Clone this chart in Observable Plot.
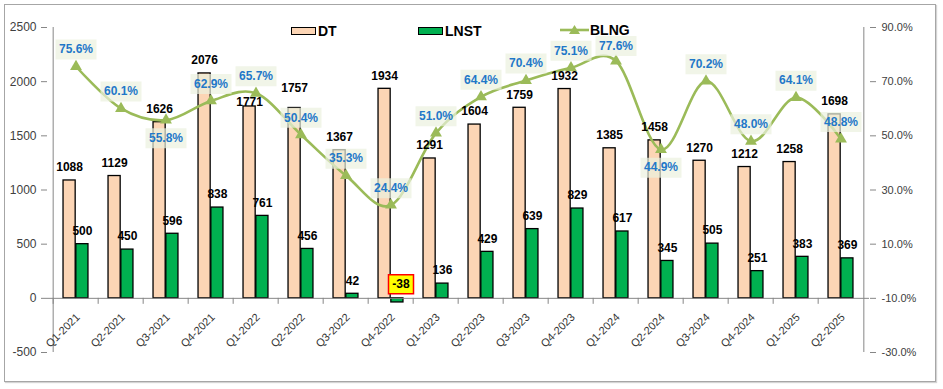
<!DOCTYPE html>
<html><head><meta charset="utf-8">
<script src="https://cdn.jsdelivr.net/npm/d3@7"></script>
<script src="https://cdn.jsdelivr.net/npm/@observablehq/plot@0.6"></script>
<style>
body{margin:0;background:#fff;font-family:"Liberation Sans",Arial,sans-serif;}
#wrap{position:relative;width:943px;height:389px;overflow:hidden;background:#fff;}
#chart{position:absolute;left:0;top:0;}
#border{position:absolute;left:4px;top:4px;width:930px;height:376px;border:1.5px solid #a6a6a6;box-shadow:1px 1px 1px #d4d4d4;pointer-events:none;}
.leg{position:absolute;font-weight:bold;font-size:14px;color:#000;line-height:14px;}
.sw{position:absolute;box-sizing:border-box;border:1px solid #000;}
</style></head><body>
<div id="wrap"><div id="chart"></div><div id="legend"></div><div id="border"></div></div>
<script>
const quarters = ["Q1-2021","Q2-2021","Q3-2021","Q4-2021","Q1-2022","Q2-2022","Q3-2022","Q4-2022","Q1-2023","Q2-2023","Q3-2023","Q4-2023","Q1-2024","Q2-2024","Q3-2024","Q4-2024","Q1-2025","Q2-2025"];
const dt   = [1088,1129,1626,2076,1771,1757,1367,1934,1291,1604,1759,1932,1385,1458,1270,1212,1258,1698];
const lnst = [500,450,596,838,761,456,42,-38,136,429,639,829,617,345,505,251,383,369];
const blng = [75.6,60.1,55.8,62.9,65.7,50.4,35.3,24.4,51.0,64.4,70.4,75.1,77.6,44.9,70.2,48.0,64.1,48.8];
const leftTicks  = [-500,0,500,1000,1500,2000,2500];
const rightTicks = [-30,-10,10,30,50,70,90];
const seriesNames = ["DT","LNST","BLNG"];
const colors = {DT:"#FCD5B5", LNST:"#00B050", BLNG:"#9BBB59"};

// right (%) axis mapped onto the left scale: -30% ↔ -500, 90% ↔ 2500
const toLeft = p => p * 25 + 250;
const fromLeft = v => (v - 250) / 25;

const data = quarters.map((q, i) => ({q, dt: dt[i], lnst: lnst[i], blng: blng[i], by: toLeft(blng[i])}));

const W = 943, H = 389, mL = 47, mR = 74, mT = 27, mB = 37;
const bw = (W - mL - mR) / quarters.length;
const barW = 12.8, gap = (bw - 2 * barW) / 2;
const axisColor = "#868686";
const dtDy = {"Q1-2022": -4, "Q2-2022": -20};
const blngDy = {"Q3-2021": 18, "Q2-2024": 18, "Q1-2024": -15};
const blngOff = q => (q in blngDy ? blngDy[q] : -17);
const boxSym = (w, h) => ({draw(ctx) { ctx.rect(-w / 2, -h / 2, w, h); }});
const dtDx = -(bw / 2 - gap - barW / 2), lnDx = bw / 2 - gap - barW / 2;

const blngGroups = d3.groups(data, d => blngOff(d.q));

const chart = Plot.plot({
  width: W, height: H,
  marginLeft: mL, marginRight: mR, marginTop: mT, marginBottom: mB,
  style: {fontFamily: "Liberation Sans, Arial, sans-serif", background: "transparent", color: "#404040"},
  x: {type: "band", domain: quarters, paddingInner: 0, paddingOuter: 0, axis: null},
  y: {domain: [-500, 2500], axis: null},
  marks: [
    Plot.barY(data, {x: "q", y: "dt", fill: colors.DT, stroke: "#000", strokeWidth: 1.3, insetLeft: gap, insetRight: bw - gap - barW}),
    Plot.barY(data, {x: "q", y: "lnst", fill: colors.LNST, stroke: "#000", strokeWidth: 1.3, insetLeft: gap + barW, insetRight: gap}),
    Plot.ruleY([0], {stroke: axisColor}),
    Plot.ruleX(data, {x: "q", y1: () => 0, y2: () => 0, dx: -bw / 2, insetBottom: -6, stroke: axisColor}),
    Plot.ruleX([quarters[0]], {x: d => d, dx: -bw / 2, stroke: axisColor}),
    Plot.ruleX([quarters[quarters.length - 1]], {x: d => d, dx: bw / 2, stroke: axisColor}),
    Plot.axisY({anchor: "left", ticks: leftTicks, tickSize: 6, tickPadding: 5, fontSize: 12, stroke: axisColor, tickFormat: d => String(d)}),
    Plot.axisY({anchor: "right", ticks: rightTicks.map(toLeft), tickSize: 6, tickPadding: 6, fontSize: 11, stroke: axisColor, tickFormat: v => fromLeft(v).toFixed(1) + "%"}),
    Plot.text(data, {x: "q", y: () => 0, text: "q", rotate: -45, textAnchor: "end", dx: 2, dy: 17, fontSize: 11, fill: "#333"}),
    Plot.line(data, {x: "q", y: "by", stroke: colors.BLNG, strokeWidth: 2.6, curve: "cardinal"}),
    Plot.dot(data, {x: "q", y: "by", symbol: "triangle", r: 4.4, fill: colors.BLNG, stroke: "none"}),
    // DT labels
    Plot.text(data.filter(d => !(d.q in dtDy)), {x: "q", y: "dt", text: d => String(d.dt), dx: dtDx, dy: -13, fontSize: 12, fontWeight: "bold", fill: "#000"}),
    ...Object.keys(dtDy).map(k => Plot.text(data.filter(d => d.q === k), {x: "q", y: "dt", text: d => String(d.dt), dx: dtDx, dy: dtDy[k], fontSize: 12, fontWeight: "bold", fill: "#000"})),
    // LNST labels
    Plot.text(data.filter(d => d.lnst >= 0), {x: "q", y: "lnst", text: d => String(d.lnst), dx: lnDx, dy: -13, fontSize: 12, fontWeight: "bold", fill: "#000"}),
    Plot.dot(data.filter(d => d.lnst < 0), {x: "q", y: () => 0, dx: 10, dy: -14, symbol: boxSym(25, 19), fill: "#FFFF00", stroke: "#FF0000", strokeWidth: 1.5}),
    Plot.text(data.filter(d => d.lnst < 0), {x: "q", y: () => 0, text: d => String(d.lnst), dx: 10, dy: -14, fontSize: 12, fontWeight: "bold", fill: "#000"}),
    // BLNG labels (box + text)
    ...blngGroups.map(([off, rows]) => Plot.dot(rows, {x: "q", y: "by", dy: off, symbol: boxSym(41, 20), fill: "#EBF1DE", fillOpacity: 0.7, stroke: "none"})),
    ...blngGroups.map(([off, rows]) => Plot.text(rows, {x: "q", y: "by", dy: off, text: d => d.blng.toFixed(1) + "%", fontSize: 12, fontWeight: "bold", fill: "#1F78C8"}))
  ]
});
document.getElementById("chart").appendChild(chart);

// Legend (overlaid inside the plot area, as in the reference)
const legend = document.getElementById("legend");
const legPos = {DT: 291, LNST: 418, BLNG: 560};
seriesNames.forEach(name => {
  const x = legPos[name];
  if (name === "BLNG") {
    const ns = "http://www.w3.org/2000/svg";
    const s = document.createElementNS(ns, "svg");
    s.setAttribute("width", 30); s.setAttribute("height", 14);
    s.style.position = "absolute"; s.style.left = x + "px"; s.style.top = "23px";
    s.innerHTML = `<line x1="0" y1="7" x2="29" y2="7" stroke="${colors.BLNG}" stroke-width="2.6"/><path d="M14.5,2 L20,11 L9,11 Z" fill="${colors.BLNG}"/>`;
    legend.appendChild(s);
    const t = document.createElement("div"); t.className = "leg"; t.textContent = name;
    t.style.left = (x + 30) + "px"; t.style.top = "23px"; legend.appendChild(t);
  } else {
    const sw = document.createElement("div"); sw.className = "sw";
    sw.style.left = x + "px"; sw.style.top = "27px"; sw.style.width = "25px"; sw.style.height = "8px";
    sw.style.background = colors[name];
    legend.appendChild(sw);
    const t = document.createElement("div"); t.className = "leg"; t.textContent = name;
    t.style.left = (x + 27) + "px"; t.style.top = "24px"; legend.appendChild(t);
  }
});
</script>
</body></html>
